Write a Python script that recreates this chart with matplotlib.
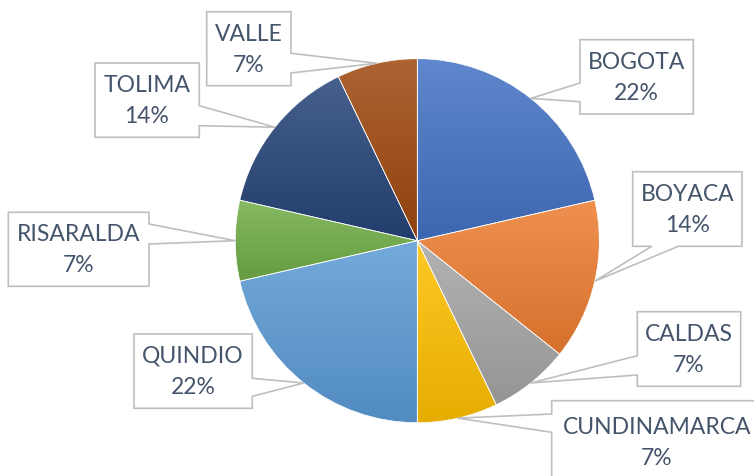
import numpy as np
import matplotlib
matplotlib.use("Agg")
import matplotlib.pyplot as plt
from matplotlib.patches import Polygon
from matplotlib.colors import to_rgb

# ---- data ----
departments = ["BOGOTA", "BOYACA", "CALDAS", "CUNDINAMARCA",
               "QUINDIO", "RISARALDA", "TOLIMA", "VALLE"]
counts = [3, 2, 1, 1, 3, 1, 2, 1]
pct_labels = ["22%", "14%", "7%", "7%", "22%", "7%", "14%", "7%"]
colors = ["#4472C4", "#ED7D31", "#A5A5A5", "#FFC000",
          "#5B9BD5", "#70AD47", "#264478", "#9E480E"]

# ---- layout (pixel coords, y down) ----
W, H = 754, 477
callouts = {
    "BOGOTA":       dict(box=(580, 40.7, 693.3, 115), side="left", base=(84, 102.7), text=(636.7, 78)),
    "BOYACA":       dict(box=(632.7, 172.7, 742, 247.3), side="bottom", base=(651.7, 678.3), text=(687.3, 210)),
    "CALDAS":       dict(box=(637.3, 312.7, 740.7, 387.3), side="left", base=(356.7, 376), text=(689, 350)),
    "CUNDINAMARCA": dict(box=(551.7, 401.7, 775, 500), side="left", base=(415, 433.3), text=(657, 443.5)),
    "QUINDIO":      dict(box=(134, 335, 252.3, 409.3), side="right", base=(379.3, 397.3), text=(193, 372)),
    "RISARALDA":    dict(box=(8.3, 213.3, 149, 287.3), side="right", base=(225, 245), text=(78.7, 250.5)),
    "TOLIMA":       dict(box=(95, 64, 199.3, 138.3), side="right", base=(106.7, 126.7), text=(147, 101)),
    "VALLE":        dict(box=(206.7, 12.7, 291, 86.7), side="right", base=(54.3, 74), text=(248.8, 50)),
}

fig = plt.figure(figsize=(W / 100, H / 100), dpi=100)
ax = fig.add_axes([0, 0, 1, 1])


def P(x, y):
    return (x, H - y)


center = P(417.3, 241.7)
R = 182
wedges, _ = ax.pie(counts, colors=colors, startangle=90, counterclock=False,
                   center=center, radius=R,
                   wedgeprops=dict(edgecolor="white", linewidth=0.5))

# vertical gradient inside each slice
for w, c in zip(wedges, colors):
    th = np.radians(np.linspace(w.theta1, w.theta2, 200))
    xs = np.r_[w.center[0], w.center[0] + w.r * np.cos(th)]
    ys = np.r_[w.center[1], w.center[1] + w.r * np.sin(th)]
    base = np.array(to_rgb(c))
    top = base * 0.85 + 0.15
    bottom = base * 0.9
    t = np.linspace(0, 1, 256)[:, None]
    img = (bottom + (top - bottom) * t).reshape(256, 1, 3)
    im = ax.imshow(img, extent=(xs.min(), xs.max(), ys.min(), ys.max()),
                   origin="lower", aspect="auto", interpolation="bilinear",
                   zorder=0.9)
    im.set_clip_path(w)
    w.set_facecolor("none")
    w.set_zorder(1)

text_color = "#44546A"
border = "#BFBFBF"
for name, pct, w in zip(departments, pct_labels, wedges):
    cfg = callouts[name]
    x0, y0, x1, y1 = cfg["box"]
    mid = np.radians((w.theta1 + w.theta2) / 2)
    ax_ = w.center[0] + w.r * np.cos(mid)
    ay_ = w.center[1] + w.r * np.sin(mid)
    apex = (ax_, H - ay_)  # back to pixel coords
    b1, b2 = cfg["base"]
    side = cfg["side"]
    if side == "left":
        pts = [(x0, y0), (x1, y0), (x1, y1), (x0, y1), (x0, b2), apex, (x0, b1)]
    elif side == "right":
        pts = [(x0, y0), (x1, y0), (x1, b1), apex, (x1, b2), (x1, y1), (x0, y1)]
    else:
        pts = [(x0, y0), (x1, y0), (x1, y1), (b2, y1), apex, (b1, y1), (x0, y1)]
    poly = Polygon([P(*p) for p in pts], closed=True, facecolor="white",
                   edgecolor=border, linewidth=1.2, zorder=3, clip_on=False)
    ax.add_patch(poly)
    tx, ty = cfg["text"]
    ax.text(*P(tx, ty - 15.5), name, ha="center", va="center", fontsize=16.5,
            color=text_color, family="Lato", zorder=4)
    ax.text(*P(tx, ty + 15.5), pct, ha="center", va="center", fontsize=16.5,
            color=text_color, family="Lato", zorder=4)

ax.set_xlim(0, W)
ax.set_ylim(0, H)
ax.set_aspect("equal")
ax.axis("off")
fig.savefig("out.png", dpi=100)
